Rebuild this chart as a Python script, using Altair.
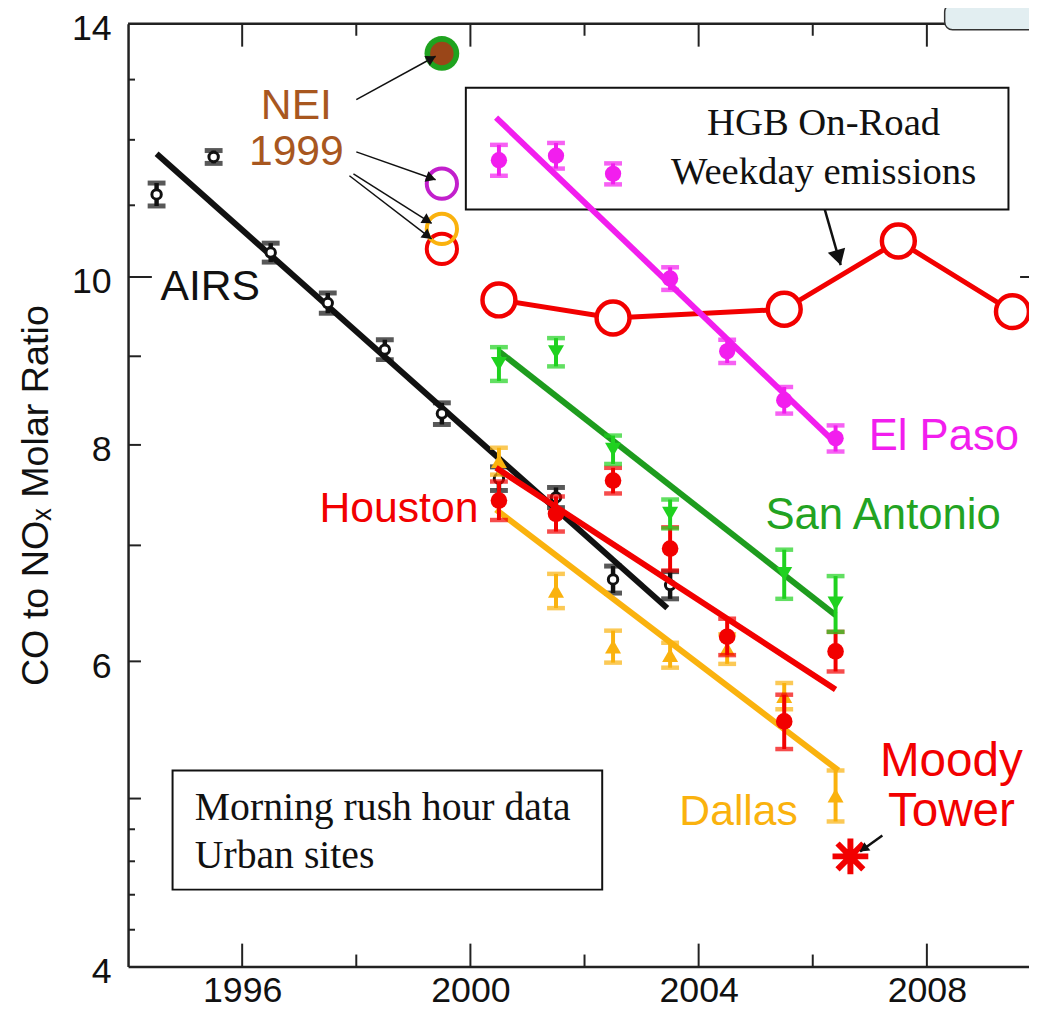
import math
import altair as alt
import pandas as pd

# ---------------- data ----------------
AIRS_YEAR = [1994.5, 1995.5, 1996.5, 1997.5, 1998.5, 1999.5, 2000.5, 2001.5, 2002.5, 2003.5]
AIRS_VAL = [11.16, 11.73, 10.33, 9.66, 9.08, 8.34, 7.65, 7.46, 6.69, 6.64]
AIRS_ERR = [0.17, 0.10, 0.13, 0.13, 0.12, 0.12, 0.12, 0.10, 0.12, 0.12]
AIRS_FIT_YEAR = [1994.5, 2003.45]
AIRS_FIT_VAL = [11.78, 6.44]

ELPASO_YEAR = [2000.5, 2001.5, 2002.5, 2003.5, 2004.5, 2005.5, 2006.4]
ELPASO_VAL = [11.68, 11.75, 11.47, 9.98, 9.06, 8.49, 8.07]
ELPASO_ERR = [0.24, 0.20, 0.16, 0.15, 0.14, 0.15, 0.14]
ELPASO_FIT_YEAR = [2000.45, 2006.4]
ELPASO_FIT_VAL = [12.36, 8.02]

SANANT_YEAR = [2000.5, 2001.5, 2002.5, 2003.5, 2005.5, 2006.4]
SANANT_VAL = [8.91, 9.05, 7.95, 7.30, 6.74, 6.48]
SANANT_ERR = [0.20, 0.17, 0.15, 0.14, 0.22, 0.24]
SANANT_FIT_YEAR = [2000.5, 2006.4]
SANANT_FIT_VAL = [9.06, 6.38]

HOUSTON_YEAR = [2000.5, 2001.5, 2002.5, 2003.5, 2004.5, 2005.5, 2006.4]
HOUSTON_VAL = [7.43, 7.30, 7.63, 6.97, 6.20, 5.54, 6.08]
HOUSTON_ERR = [0.19, 0.17, 0.13, 0.20, 0.15, 0.20, 0.16]
HOUSTON_FIT_YEAR = [2000.45, 2006.4]
HOUSTON_FIT_VAL = [7.76, 5.78]

DALLAS_YEAR = [2000.5, 2001.5, 2002.5, 2003.5, 2004.5, 2005.5, 2006.4]
DALLAS_VAL = [7.83, 6.59, 6.12, 6.05, 6.10, 5.73, 5.02]
DALLAS_ERR = [0.14, 0.15, 0.13, 0.10, 0.12, 0.10, 0.17]
DALLAS_FIT_YEAR = [2000.45, 2006.45]
DALLAS_FIT_VAL = [7.34, 5.19]

HGB_YEAR = [2000.5, 2002.5, 2005.5, 2007.5, 2009.5]
HGB_VAL = [9.70, 9.47, 9.58, 10.49, 9.55]

NEI_YEAR = 1999.5
NEI_VAL = [10.38, 10.66, 11.32]          # red, orange, magenta open circles
NEI_DOT_VAL = 13.46                       # brown dot on green ring

MOODY_YEAR = [2006.66]
MOODY_VAL = [4.63]

X_TICK_LABELS = [1996, 2000, 2004, 2008]
X_TICK_MINOR = [1998, 2002, 2006]
Y_TICK_LABELS = [4, 6, 8, 10, 14]
Y_TICK_LONG = [10]
Y_TICK_MED = [5, 6, 7, 8, 9]
Y_TICK_SHORT = [4.2, 4.4, 4.6, 4.8, 11, 12, 13]

# annotation arrows (data units): start -> end
ARROW_X1 = [1998.0, 1998.0, 1997.95, 1997.88, 2006.21, 2007.22]
ARROW_Y1 = [12.66, 11.81, 11.47, 11.44, 10.94, 4.76]
ARROW_X2 = [1999.39, 1999.39, 1999.32, 1999.32, 2006.49, 2006.83]
ARROW_Y2 = [13.41, 11.38, 10.74, 10.52, 10.16, 4.66]
ARROW_W = [1.5, 1.5, 1.5, 1.5, 2.5, 2.5]
ARROW_HEAD = [130, 130, 130, 130, 330, 110]

# ---------------- layout / style ----------------
X_DOMAIN = [1994.0, 2009.79]
Y_DOMAIN = [4.0, 14.0]
W, H = 908, 950

BLACK = "#111111"
AXIS = "#222222"
MAGENTA = "#F21EEE"
RED = "#F20000"
GREEN_PT = "#1FD21F"
GREEN_LINE = "#1E9C1E"
GREEN_TXT = "#22A322"
ORANGE = "#FAB20E"
BROWN_TXT = "#A8571F"
BROWN_DOT = "#9A4618"
RING_GREEN = "#1FA31F"
SANS = "Liberation Sans"
SERIF = "Liberation Serif"

XS = alt.Scale(domain=X_DOMAIN, nice=False, zero=False)
YS = alt.Scale(type="log", domain=Y_DOMAIN, nice=False, zero=False)

XAXIS = alt.Axis(values=X_TICK_LABELS, format="d", labelFontSize=36, labelFont=SANS,
                 labelColor=BLACK, domainColor=AXIS, domainWidth=2.5, ticks=False,
                 labelPadding=7, grid=False, title=None, labelFlush=False,
                 labelOverlap=False)
YAXIS = alt.Axis(values=Y_TICK_LABELS, format="d", labelFontSize=36, labelFont=SANS,
                 labelColor=BLACK, domainColor=AXIS, domainWidth=2.5, ticks=False,
                 labelPadding=17, labelOffset=5, grid=False, labelFlush=False,
                 labelOverlap=False, labelBound=False,
                 title="CO to NOₓ Molar Ratio", titleFont=SANS, titleFontSize=38,
                 titleFontWeight="normal", titleColor=BLACK, titleX=-81, titleY=H / 2,
                 titleAngle=270, titleAlign="center", titleBaseline="alphabetic")


def X(f):
    return alt.X(f"{f}:Q", scale=XS, axis=XAXIS)


def Y(f):
    return alt.Y(f"{f}:Q", scale=YS, axis=YAXIS)


def px(yr):
    return (yr - X_DOMAIN[0]) / (X_DOMAIN[1] - X_DOMAIN[0]) * W


def py(v):
    return H * (math.log(Y_DOMAIN[1]) - math.log(v)) / (math.log(Y_DOMAIN[1]) - math.log(Y_DOMAIN[0]))


def inv_px(p):
    return X_DOMAIN[0] + p / W * (X_DOMAIN[1] - X_DOMAIN[0])


def inv_py(p):
    return math.exp(math.log(Y_DOMAIN[1]) - p / H * (math.log(Y_DOMAIN[1]) - math.log(Y_DOMAIN[0])))


def series(years, vals, errs, fit_years, fit_vals, pt_color, line_color, shape,
           size, line_w=6, open_pt=False, bar_w=4):
    d = pd.DataFrame({"year": years, "v": vals,
                      "lo": [v - e for v, e in zip(vals, errs)],
                      "hi": [v + e for v, e in zip(vals, errs)]})
    fit = pd.DataFrame({"year": fit_years, "v": fit_vals})
    layers = [
        alt.Chart(fit).mark_line(color=line_color, strokeWidth=line_w, clip=True,
                                 strokeCap="butt").encode(x=X("year"), y=Y("v")),
        alt.Chart(d).mark_rule(color=pt_color, strokeWidth=bar_w).encode(
            x=X("year"), y=Y("lo"), y2=alt.Y2("hi")),
        alt.Chart(d).mark_tick(color=pt_color, orient="horizontal", size=18,
                               thickness=bar_w + 0.5).encode(x=X("year"), y=Y("lo")),
        alt.Chart(d).mark_tick(color=pt_color, orient="horizontal", size=18,
                               thickness=bar_w + 0.5).encode(x=X("year"), y=Y("hi")),
    ]
    if open_pt:
        layers.append(alt.Chart(d).mark_point(shape=shape, filled=True, fill="white",
                                              stroke=pt_color, strokeWidth=3, size=size,
                                              opacity=1).encode(x=X("year"), y=Y("v")))
    else:
        layers.append(alt.Chart(d).mark_point(shape=shape, filled=True, color=pt_color,
                                              size=size, opacity=1).encode(x=X("year"), y=Y("v")))
    return layers


# ---------------- base layer carrying the axes ----------------
base_df = pd.DataFrame({"year": AIRS_YEAR, "v": AIRS_VAL})
base = alt.Chart(base_df).mark_point(opacity=0).encode(x=X("year"), y=Y("v"))

# ---------------- boxes ----------------
boxes = pd.DataFrame({"x1": [1999.92, 1994.78], "x2": [2009.43, 2002.31],
                      "y1": [12.86, 5.19], "y2": [10.94, 4.43]})
box_layer = alt.Chart(boxes).mark_rect(fill="white", stroke=BLACK, strokeWidth=2).encode(
    x=X("x1"), x2=alt.X2("x2"), y=Y("y1"), y2=alt.Y2("y2"))

# ---------------- series ----------------
layers = [base, box_layer]
layers += series(AIRS_YEAR, AIRS_VAL, AIRS_ERR, AIRS_FIT_YEAR, AIRS_FIT_VAL,
                 BLACK, BLACK, "circle", 90, open_pt=True, bar_w=4.5)

hgb = pd.DataFrame({"year": HGB_YEAR, "v": HGB_VAL})
layers.append(alt.Chart(hgb).mark_line(color=RED, strokeWidth=5, clip=True).encode(
    x=X("year"), y=Y("v")))
layers.append(alt.Chart(hgb).mark_point(shape="circle", filled=True, fill="white", stroke=RED,
                                        strokeWidth=4.5, size=1100, opacity=1, clip=True).encode(
    x=X("year"), y=Y("v")))

layers += series(DALLAS_YEAR, DALLAS_VAL, DALLAS_ERR, DALLAS_FIT_YEAR, DALLAS_FIT_VAL,
                 ORANGE, ORANGE, "triangle-up", 260)
layers += series(HOUSTON_YEAR, HOUSTON_VAL, HOUSTON_ERR, HOUSTON_FIT_YEAR, HOUSTON_FIT_VAL,
                 RED, RED, "circle", 280)
layers += series(SANANT_YEAR, SANANT_VAL, SANANT_ERR, SANANT_FIT_YEAR, SANANT_FIT_VAL,
                 GREEN_PT, GREEN_LINE, "triangle-down", 260)
layers += series(ELPASO_YEAR, ELPASO_VAL, ELPASO_ERR, ELPASO_FIT_YEAR, ELPASO_FIT_VAL,
                 MAGENTA, MAGENTA, "circle", 270)

# ---------------- NEI 1999 ----------------
nei = pd.DataFrame({"year": [NEI_YEAR] * 3, "v": NEI_VAL, "c": ["red", "orange", "magenta"]})
layers.append(alt.Chart(nei).mark_point(shape="circle", filled=False, strokeWidth=4, size=930,
                                        opacity=1).encode(
    x=X("year"), y=Y("v"),
    color=alt.Color("c:N", scale=alt.Scale(domain=["red", "orange", "magenta"],
                                           range=[RED, ORANGE, "#C21FCC"]), legend=None)))
nei_dot = pd.DataFrame({"year": [NEI_YEAR], "v": [NEI_DOT_VAL]})
layers.append(alt.Chart(nei_dot).mark_point(shape="circle", filled=True, color=RING_GREEN,
                                            size=1225, opacity=1).encode(x=X("year"), y=Y("v")))
layers.append(alt.Chart(nei_dot).mark_point(shape="circle", filled=True, color=BROWN_DOT,
                                            size=560, opacity=1).encode(x=X("year"), y=Y("v")))

# ---------------- Moody Tower asterisk ----------------
ASTERISK = "M0,-1L0,1M-1,0L1,0M-0.72,-0.72L0.72,0.72M-0.72,0.72L0.72,-0.72"
moody = pd.DataFrame({"year": MOODY_YEAR, "v": MOODY_VAL})
layers.append(alt.Chart(moody).mark_point(shape=ASTERISK, filled=False, stroke=RED,
                                          strokeWidth=6, size=1300, opacity=1).encode(
    x=X("year"), y=Y("v")))

# ---------------- arrows ----------------
arr = pd.DataFrame({"x1": ARROW_X1, "y1": ARROW_Y1, "x2": ARROW_X2, "y2": ARROW_Y2,
                    "w": ARROW_W, "s": ARROW_HEAD})
hx, hy, ha = [], [], []
for x1, y1, x2, y2, s in zip(ARROW_X1, ARROW_Y1, ARROW_X2, ARROW_Y2, ARROW_HEAD):
    p1 = (px(x1), py(y1))
    p2 = (px(x2), py(y2))
    dx, dy = p2[0] - p1[0], p2[1] - p1[1]
    L = math.hypot(dx, dy)
    ux, uy = dx / L, dy / L
    back = math.sqrt(s) * 0.42
    hx.append(inv_px(p2[0] - ux * back))
    hy.append(inv_py(p2[1] - uy * back))
    ha.append(math.degrees(math.atan2(ux, -uy)) % 360)
arr["hx"], arr["hy"], arr["ang"] = hx, hy, ha
layers.append(alt.Chart(arr).mark_rule(color=BLACK).encode(
    x=X("x1"), y=Y("y1"), x2=alt.X2("x2"), y2=alt.Y2("y2"),
    strokeWidth=alt.StrokeWidth("w:Q", scale=None)))
layers.append(alt.Chart(arr).mark_point(shape="triangle-up", filled=True, color=BLACK,
                                        opacity=1).encode(
    x=X("hx"), y=Y("hy"), angle=alt.Angle("ang:Q", scale=None),
    size=alt.Size("s:Q", scale=None)))

# ---------------- text labels ----------------
def label(x, y, text, color, size, align="left", font=SANS, line_height=None):
    d = pd.DataFrame({"x": [x], "y": [y], "t": [text]})
    kw = dict(align=align, baseline="alphabetic", font=font, fontSize=size, color=color,
              lineBreak="\n")
    if line_height:
        kw["lineHeight"] = line_height
    return alt.Chart(d).mark_text(**kw).encode(x=X("x"), y=Y("y"), text="t:N")


layers += [
    label(1995.44, 9.70, "AIRS", BLACK, 43, "center"),
    label(1996.95, 12.33, "NEI\n1999", BROWN_TXT, 43, "center", line_height=46),
    label(2006.98, 7.95, "El Paso", MAGENTA, 44),
    label(2005.17, 7.15, "San Antonio", GREEN_TXT, 44),
    label(2000.14, 7.22, "Houston", RED, 43, "right"),
    label(2005.74, 4.83, "Dallas", ORANGE, 43, "right"),
    label(2008.43, 5.15, "Moody\nTower", RED, 48, "center", line_height=50),
    label(2006.19, 12.07, "HGB On-Road\nWeekday emissions", BLACK, 39, "center", SERIF, 49),
    label(1995.17, 4.86, "Morning rush hour data\nUrban sites", BLACK, 40, "left", SERIF, 48),
]

# ---------------- frame & inward ticks ----------------
frame_top = alt.Chart(pd.DataFrame({"a": [0]})).mark_rule(color=AXIS, strokeWidth=2.5).encode(
    x=alt.value(0), x2=alt.value(W), y=alt.value(0))
layers.append(frame_top)


def yticks(vals, length, right=False):
    d = pd.DataFrame({"v": vals})
    if right:
        xa, xb = W - length, W
    else:
        xa, xb = 0, length
    return alt.Chart(d).mark_rule(color=AXIS, strokeWidth=2).encode(
        y=Y("v"), x=alt.value(xa), x2=alt.value(xb))


def xticks(vals, length):
    d = pd.DataFrame({"t": vals})
    bot = alt.Chart(d).mark_rule(color=AXIS, strokeWidth=2).encode(
        x=X("t"), y=alt.value(H), y2=alt.value(H - length))
    top = alt.Chart(d).mark_rule(color=AXIS, strokeWidth=2).encode(
        x=X("t"), y=alt.value(0), y2=alt.value(length))
    return [bot, top]


layers += [yticks(Y_TICK_LONG, 24), yticks(Y_TICK_MED, 13), yticks(Y_TICK_SHORT, 7),
           yticks(Y_TICK_LONG, 9, right=True)]
layers += xticks(X_TICK_LABELS, 23)
layers += xticks(X_TICK_MINOR, 12)

# slide badge in the top-right corner (partly outside the figure)
badge = alt.Chart(pd.DataFrame({"a": [0]})).mark_rect(
    fill="#E2EEF1", stroke="#333333", strokeWidth=1.5, cornerRadius=8).encode(
    x=alt.value(W - 85), x2=alt.value(W + 20), y=alt.value(-20), y2=alt.value(6))
layers.append(badge)

chart = alt.layer(*layers).properties(
    width=W, height=H,
    padding={"left": 121, "top": 12, "right": 0, "bottom": 48},
    autosize=alt.AutoSizeParams(type="none"),
    background="white",
).configure_view(stroke=None)

chart.save("out.html", embed_options={"renderer": "svg", "actions": False})
